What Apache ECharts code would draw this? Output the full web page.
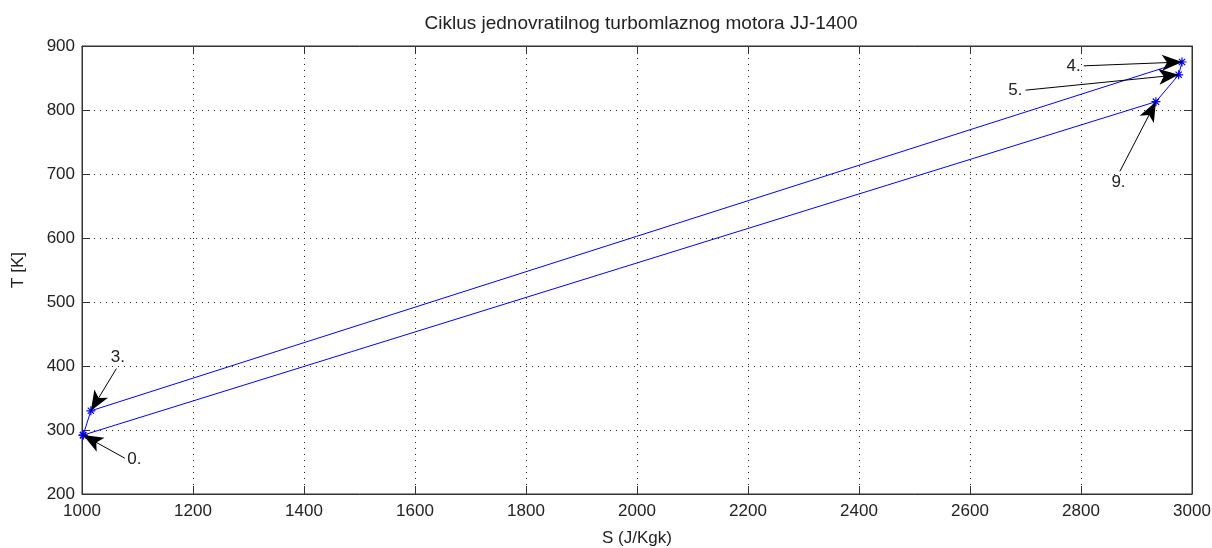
<!DOCTYPE html>
<html><head><meta charset="utf-8">
<script src="https://cdn.jsdelivr.net/npm/echarts@6/dist/echarts.min.js"></script>
<style>html,body{margin:0;padding:0;background:#fff}#c{width:1212px;height:548px}</style>
</head><body><div id="c"></div>
<script>
// Cycle points (S [J/Kgk], T [K]) in order 0 -> 3 -> 4 -> 5 -> 9 -> 0
const pointNames = ['0.', '3.', '4.', '5.', '9.', '0.'];
const sValues = [1002, 1016, 2982, 2976, 2935, 1002];
const tValues = [292, 330, 875, 855, 813, 292];
// Annotation arrow tails (data coords) for labels 0., 3., 4., 5., 9.
const annLabels = ['0.', '3.', '4.', '5.', '9.'];
const annTailS = [1077, 1062, 2805, 2700, 2870];
const annTailT = [256, 396, 869, 831, 704];
const annHeadIdx = [0, 1, 2, 3, 4];
const xTicks = [1000, 1200, 1400, 1600, 1800, 2000, 2200, 2400, 2600, 2800, 3000];
const yTicks = [200, 300, 400, 500, 600, 700, 800, 900];

const font = 'Liberation Sans, Arial, sans-serif';
const chart = echarts.init(document.getElementById('c'));
const arrows = annLabels.map((l, i) => [
  {coord: [annTailS[i], annTailT[i]], symbol: 'none', label: {formatter: l}},
  {coord: [sValues[annHeadIdx[i]], tValues[annHeadIdx[i]]], symbol: 'arrow'}
]);
const star = 'path://M0,5L10,5M5,0L5,10M1.5,1.5L8.5,8.5M1.5,8.5L8.5,1.5';
chart.setOption({
  animation: false,
  title: {text: 'Ciklus jednovratilnog turbomlaznog motora JJ-1400', left: 636, textAlign: 'center', top: 9,
    textStyle: {fontFamily: font, fontSize: 19, fontWeight: 'normal', color: '#222'}},
  grid: {left: 82, right: 20, top: 46, bottom: 54, outerBoundsMode: 'none', containLabel: false,
    show: true, borderColor: '#333', borderWidth: 1},
  xAxis: [{
    type: 'value', min: 1000, max: 3000, interval: 200,
    name: 'S (J/Kgk)', nameLocation: 'middle', nameGap: 36,
    nameTextStyle: {fontFamily: font, fontSize: 17, color: '#222'},
    axisLine: {lineStyle: {color: '#333'}},
    axisTick: {inside: true, length: 8, lineStyle: {color: '#333'}},
    axisLabel: {fontFamily: font, fontSize: 17, color: '#222', margin: 9, formatter: v => String(v)},
    splitLine: {show: true, lineStyle: {type: [1, 5], color: '#222', width: 1}}
  }, {
    type: 'value', min: 1000, max: 3000, interval: 200, position: 'top',
    axisLine: {lineStyle: {color: '#333'}},
    axisTick: {inside: true, length: 8, lineStyle: {color: '#333'}},
    axisLabel: {show: false}, splitLine: {show: false}
  }],
  yAxis: [{
    type: 'value', min: 200, max: 900, interval: 100,
    name: 'T [K]', nameLocation: 'middle', nameGap: 55, nameRotate: 90,
    nameTextStyle: {fontFamily: font, fontSize: 17, color: '#222'},
    axisLine: {show: true, lineStyle: {color: '#333'}},
    axisTick: {show: true, inside: true, length: 8, lineStyle: {color: '#333'}},
    axisLabel: {fontFamily: font, fontSize: 17, color: '#222', margin: 7},
    splitLine: {show: true, lineStyle: {type: [1, 5], color: '#222', width: 1}}
  }, {
    type: 'value', min: 200, max: 900, interval: 100, position: 'right',
    axisLine: {show: true, lineStyle: {color: '#333'}},
    axisTick: {show: true, inside: true, length: 8, lineStyle: {color: '#333'}},
    axisLabel: {show: false}, splitLine: {show: false}
  }],
  series: [{
    type: 'line',
    data: sValues.map((s, i) => [s, tValues[i]]),
    lineStyle: {color: '#0000ff', width: 1},
    symbol: star, symbolSize: 9,
    itemStyle: {color: 'rgba(0,0,0,0)', borderColor: '#0000ff', borderWidth: 1.2},
    emphasis: {disabled: true},
    markLine: {
      silent: true, symbolSize: [12, 20],
      lineStyle: {color: '#000', type: 'solid', width: 1},
      label: {show: true, position: 'start', fontFamily: font, fontSize: 17, color: '#222', distance: 3},
      data: arrows
    }
  }]
});
</script></body></html>
